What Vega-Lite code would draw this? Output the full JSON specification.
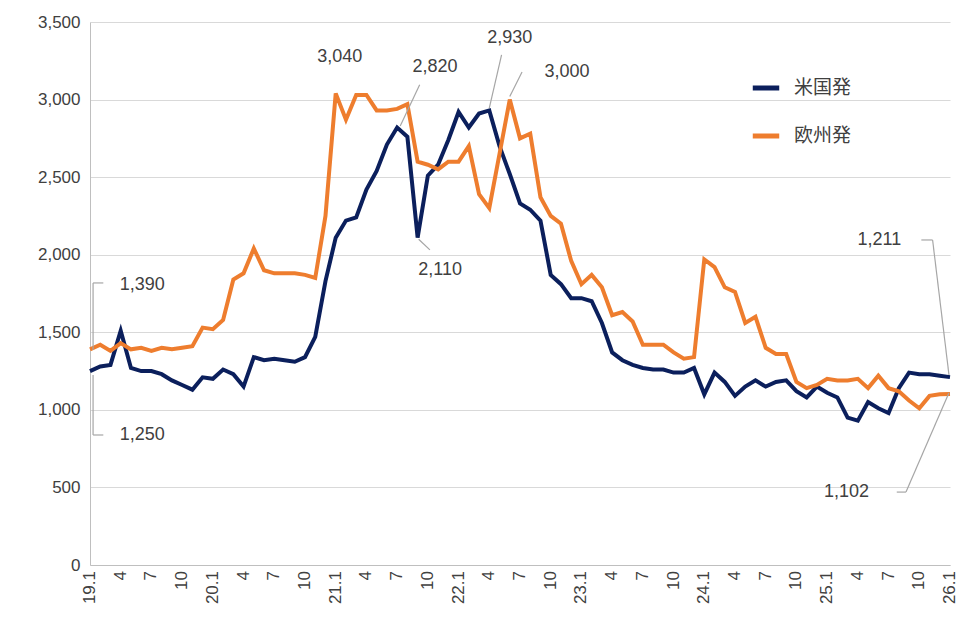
{
  "$schema": "https://vega.github.io/schema/vega-lite/v6.json",
  "width": 860,
  "height": 543,
  "autosize": "none",
  "padding": {"left": 90, "top": 22, "right": 6, "bottom": 55},
  "config": {
    "view": {"stroke": null},
    "font": "Liberation Sans",
    "axis": {"labelFont": "Liberation Sans", "labelFontSize": 17, "labelColor": "#404040", "domainColor": "#bfbfbf", "tickColor": "#bfbfbf", "gridColor": "#d9d9d9"}
  },
  "datasets": {
    "series": [
      {"i":0,"s":"米国発","v":1250},{"i":1,"s":"米国発","v":1280},{"i":2,"s":"米国発","v":1290},{"i":3,"s":"米国発","v":1510},{"i":4,"s":"米国発","v":1270},{"i":5,"s":"米国発","v":1250},{"i":6,"s":"米国発","v":1250},{"i":7,"s":"米国発","v":1230},{"i":8,"s":"米国発","v":1190},{"i":9,"s":"米国発","v":1160},{"i":10,"s":"米国発","v":1130},{"i":11,"s":"米国発","v":1210},
      {"i":12,"s":"米国発","v":1200},{"i":13,"s":"米国発","v":1260},{"i":14,"s":"米国発","v":1230},{"i":15,"s":"米国発","v":1150},{"i":16,"s":"米国発","v":1340},{"i":17,"s":"米国発","v":1320},{"i":18,"s":"米国発","v":1330},{"i":19,"s":"米国発","v":1320},{"i":20,"s":"米国発","v":1310},{"i":21,"s":"米国発","v":1340},{"i":22,"s":"米国発","v":1470},{"i":23,"s":"米国発","v":1830},
      {"i":24,"s":"米国発","v":2110},{"i":25,"s":"米国発","v":2220},{"i":26,"s":"米国発","v":2240},{"i":27,"s":"米国発","v":2420},{"i":28,"s":"米国発","v":2540},{"i":29,"s":"米国発","v":2710},{"i":30,"s":"米国発","v":2820},{"i":31,"s":"米国発","v":2760},{"i":32,"s":"米国発","v":2110},{"i":33,"s":"米国発","v":2510},{"i":34,"s":"米国発","v":2580},{"i":35,"s":"米国発","v":2740},
      {"i":36,"s":"米国発","v":2920},{"i":37,"s":"米国発","v":2820},{"i":38,"s":"米国発","v":2910},{"i":39,"s":"米国発","v":2930},{"i":40,"s":"米国発","v":2700},{"i":41,"s":"米国発","v":2520},{"i":42,"s":"米国発","v":2330},{"i":43,"s":"米国発","v":2290},{"i":44,"s":"米国発","v":2220},{"i":45,"s":"米国発","v":1870},{"i":46,"s":"米国発","v":1810},{"i":47,"s":"米国発","v":1720},
      {"i":48,"s":"米国発","v":1720},{"i":49,"s":"米国発","v":1700},{"i":50,"s":"米国発","v":1560},{"i":51,"s":"米国発","v":1370},{"i":52,"s":"米国発","v":1320},{"i":53,"s":"米国発","v":1290},{"i":54,"s":"米国発","v":1270},{"i":55,"s":"米国発","v":1260},{"i":56,"s":"米国発","v":1260},{"i":57,"s":"米国発","v":1240},{"i":58,"s":"米国発","v":1240},{"i":59,"s":"米国発","v":1270},
      {"i":60,"s":"米国発","v":1100},{"i":61,"s":"米国発","v":1240},{"i":62,"s":"米国発","v":1180},{"i":63,"s":"米国発","v":1090},{"i":64,"s":"米国発","v":1150},{"i":65,"s":"米国発","v":1190},{"i":66,"s":"米国発","v":1150},{"i":67,"s":"米国発","v":1180},{"i":68,"s":"米国発","v":1190},{"i":69,"s":"米国発","v":1120},{"i":70,"s":"米国発","v":1080},{"i":71,"s":"米国発","v":1150},
      {"i":72,"s":"米国発","v":1110},{"i":73,"s":"米国発","v":1080},{"i":74,"s":"米国発","v":950},{"i":75,"s":"米国発","v":930},{"i":76,"s":"米国発","v":1050},{"i":77,"s":"米国発","v":1010},{"i":78,"s":"米国発","v":980},{"i":79,"s":"米国発","v":1140},{"i":80,"s":"米国発","v":1240},{"i":81,"s":"米国発","v":1230},{"i":82,"s":"米国発","v":1230},{"i":83,"s":"米国発","v":1220},{"i":84,"s":"米国発","v":1211},
      {"i":0,"s":"欧州発","v":1390},{"i":1,"s":"欧州発","v":1420},{"i":2,"s":"欧州発","v":1380},{"i":3,"s":"欧州発","v":1430},{"i":4,"s":"欧州発","v":1390},{"i":5,"s":"欧州発","v":1400},{"i":6,"s":"欧州発","v":1380},{"i":7,"s":"欧州発","v":1400},{"i":8,"s":"欧州発","v":1390},{"i":9,"s":"欧州発","v":1400},{"i":10,"s":"欧州発","v":1410},{"i":11,"s":"欧州発","v":1530},
      {"i":12,"s":"欧州発","v":1520},{"i":13,"s":"欧州発","v":1580},{"i":14,"s":"欧州発","v":1840},{"i":15,"s":"欧州発","v":1880},{"i":16,"s":"欧州発","v":2040},{"i":17,"s":"欧州発","v":1900},{"i":18,"s":"欧州発","v":1880},{"i":19,"s":"欧州発","v":1880},{"i":20,"s":"欧州発","v":1880},{"i":21,"s":"欧州発","v":1870},{"i":22,"s":"欧州発","v":1850},{"i":23,"s":"欧州発","v":2250},
      {"i":24,"s":"欧州発","v":3040},{"i":25,"s":"欧州発","v":2870},{"i":26,"s":"欧州発","v":3030},{"i":27,"s":"欧州発","v":3030},{"i":28,"s":"欧州発","v":2930},{"i":29,"s":"欧州発","v":2930},{"i":30,"s":"欧州発","v":2940},{"i":31,"s":"欧州発","v":2970},{"i":32,"s":"欧州発","v":2600},{"i":33,"s":"欧州発","v":2580},{"i":34,"s":"欧州発","v":2550},{"i":35,"s":"欧州発","v":2600},
      {"i":36,"s":"欧州発","v":2600},{"i":37,"s":"欧州発","v":2700},{"i":38,"s":"欧州発","v":2390},{"i":39,"s":"欧州発","v":2300},{"i":40,"s":"欧州発","v":2650},{"i":41,"s":"欧州発","v":3000},{"i":42,"s":"欧州発","v":2750},{"i":43,"s":"欧州発","v":2780},{"i":44,"s":"欧州発","v":2370},{"i":45,"s":"欧州発","v":2250},{"i":46,"s":"欧州発","v":2200},{"i":47,"s":"欧州発","v":1960},
      {"i":48,"s":"欧州発","v":1810},{"i":49,"s":"欧州発","v":1870},{"i":50,"s":"欧州発","v":1790},{"i":51,"s":"欧州発","v":1610},{"i":52,"s":"欧州発","v":1630},{"i":53,"s":"欧州発","v":1570},{"i":54,"s":"欧州発","v":1420},{"i":55,"s":"欧州発","v":1420},{"i":56,"s":"欧州発","v":1420},{"i":57,"s":"欧州発","v":1370},{"i":58,"s":"欧州発","v":1330},{"i":59,"s":"欧州発","v":1340},
      {"i":60,"s":"欧州発","v":1970},{"i":61,"s":"欧州発","v":1920},{"i":62,"s":"欧州発","v":1790},{"i":63,"s":"欧州発","v":1760},{"i":64,"s":"欧州発","v":1560},{"i":65,"s":"欧州発","v":1600},{"i":66,"s":"欧州発","v":1400},{"i":67,"s":"欧州発","v":1360},{"i":68,"s":"欧州発","v":1360},{"i":69,"s":"欧州発","v":1180},{"i":70,"s":"欧州発","v":1140},{"i":71,"s":"欧州発","v":1160},
      {"i":72,"s":"欧州発","v":1200},{"i":73,"s":"欧州発","v":1190},{"i":74,"s":"欧州発","v":1190},{"i":75,"s":"欧州発","v":1200},{"i":76,"s":"欧州発","v":1140},{"i":77,"s":"欧州発","v":1220},{"i":78,"s":"欧州発","v":1140},{"i":79,"s":"欧州発","v":1120},{"i":80,"s":"欧州発","v":1060},{"i":81,"s":"欧州発","v":1010},{"i":82,"s":"欧州発","v":1090},{"i":83,"s":"欧州発","v":1100},{"i":84,"s":"欧州発","v":1102}
    ],
    "ticks": [
      {"i":0,"t":"19.1"},{"i":3,"t":"4"},{"i":6,"t":"7"},{"i":9,"t":"10"},
      {"i":12,"t":"20.1"},{"i":15,"t":"4"},{"i":18,"t":"7"},{"i":21,"t":"10"},
      {"i":24,"t":"21.1"},{"i":27,"t":"4"},{"i":30,"t":"7"},{"i":33,"t":"10"},
      {"i":36,"t":"22.1"},{"i":39,"t":"4"},{"i":42,"t":"7"},{"i":45,"t":"10"},
      {"i":48,"t":"23.1"},{"i":51,"t":"4"},{"i":54,"t":"7"},{"i":57,"t":"10"},
      {"i":60,"t":"24.1"},{"i":63,"t":"4"},{"i":66,"t":"7"},{"i":69,"t":"10"},
      {"i":72,"t":"25.1"},{"i":75,"t":"4"},{"i":78,"t":"7"},{"i":81,"t":"10"},
      {"i":84,"t":"26.1"}
    ],
    "leaders": [
      {"x":0.3,"y":1386,"x2":0.3,"y2":1818},{"x":0.3,"y":1818,"x2":1.3,"y2":1818},
      {"x":0.3,"y":1225,"x2":0.3,"y2":838},{"x":0.3,"y":838,"x2":1.3,"y2":838},
      {"x":30.3,"y":2830,"x2":32.2,"y2":3095},
      {"x":39,"y":2945,"x2":40.2,"y2":3288},
      {"x":41,"y":3020,"x2":42.2,"y2":3178},
      {"x":32.1,"y":2100,"x2":33.2,"y2":2031},
      {"x":83.9,"y":1225,"x2":82.3,"y2":2095},{"x":82.3,"y":2095,"x2":81.2,"y2":2095},
      {"x":83.9,"y":1110,"x2":79.7,"y2":470},{"x":79.7,"y":470,"x2":78.8,"y2":470}
    ],
    "labels": [
      {"x":5.1,"y":1805,"t":"1,390"},{"x":5.1,"y":838,"t":"1,250"},
      {"x":24.4,"y":3275,"t":"3,040"},{"x":33.7,"y":3210,"t":"2,820"},
      {"x":41,"y":3398,"t":"2,930"},{"x":46.6,"y":3178,"t":"3,000"},
      {"x":34.2,"y":1902,"t":"2,110"},{"x":77.1,"y":2095,"t":"1,211"},
      {"x":73.9,"y":470,"t":"1,102"}
    ]
  },
  "layer": [
    {
      "data": {"name": "series"},
      "mark": {"type": "line", "strokeWidth": 4},
      "encoding": {
        "x": {"field": "i", "type": "quantitative", "scale": {"domain": [0, 84], "nice": false},
          "axis": {"labels": false, "grid": false, "ticks": false, "title": null}},
        "y": {"field": "v", "type": "quantitative", "scale": {"domain": [0, 3500], "nice": false},
          "axis": {"values": [0,500,1000,1500,2000,2500,3000,3500], "format": ",d", "title": null, "ticks": false, "domain": true, "labelPadding": 10}},
        "color": {"field": "s", "type": "nominal", "scale": {"domain": ["米国発", "欧州発"], "range": ["#0b1f5c", "#ee7d2e"]},
          "legend": {"title": null, "orient": "none", "legendX": 660, "legendY": 50, "symbolType": "stroke", "symbolStrokeWidth": 5, "symbolSize": 700, "labelFont": "Noto Sans CJK JP", "labelFontSize": 19, "labelColor": "#404040", "rowPadding": 22, "labelOffset": 12}}
      }
    },
    {
      "data": {"name": "ticks"},
      "mark": {"type": "text", "angle": 270, "align": "right", "baseline": "middle", "fontSize": 17, "color": "#404040", "dx": -6},
      "encoding": {
        "x": {"field": "i", "type": "quantitative"},
        "y": {"datum": 0, "type": "quantitative"},
        "text": {"field": "t"}
      }
    },
    {
      "data": {"name": "leaders"},
      "mark": {"type": "rule", "color": "#a6a6a6", "strokeWidth": 1.2},
      "encoding": {
        "x": {"field": "x", "type": "quantitative"},
        "y": {"field": "y", "type": "quantitative"},
        "x2": {"field": "x2"},
        "y2": {"field": "y2"}
      }
    },
    {
      "data": {"name": "labels"},
      "mark": {"type": "text", "fontSize": 18, "color": "#404040"},
      "encoding": {
        "x": {"field": "x", "type": "quantitative"},
        "y": {"field": "y", "type": "quantitative"},
        "text": {"field": "t"}
      }
    }
  ]
}
